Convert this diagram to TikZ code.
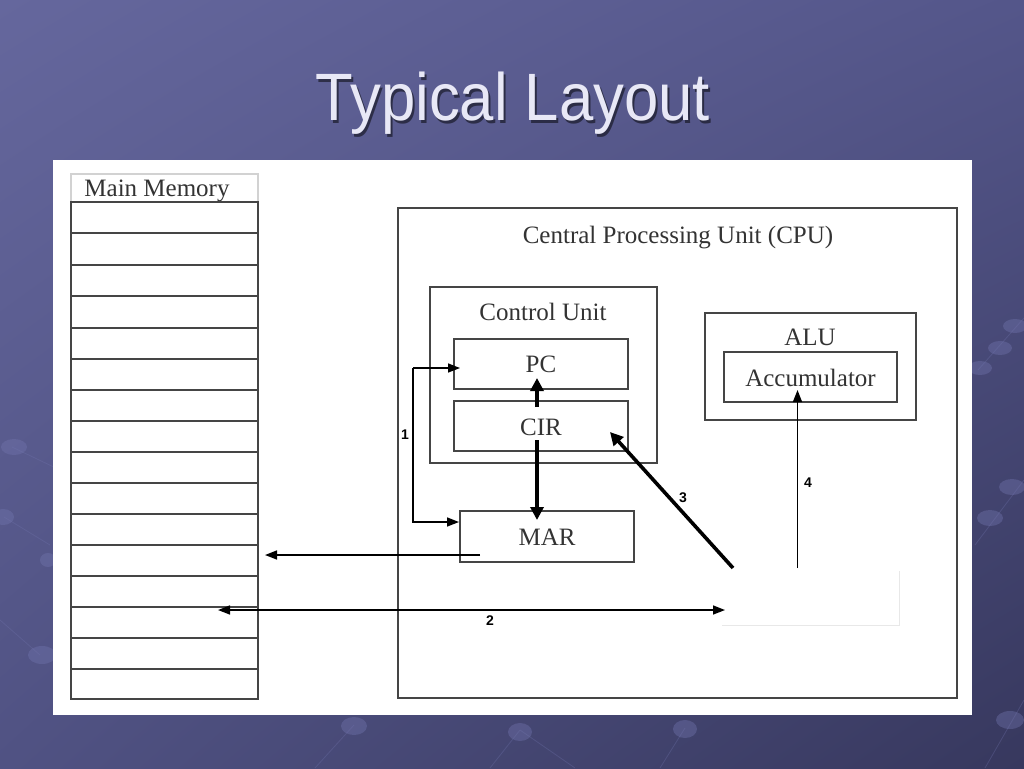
\documentclass[tikz,border=0pt]{standalone}
\usepackage{fontspec}
\setmainfont{Liberation Serif}
\newfontfamily\titlefont{Liberation Sans}
\usetikzlibrary{arrows.meta,calc,shadings}
\definecolor{bgUL}{HTML}{65679D}
\definecolor{bgUR}{HTML}{54568A}
\definecolor{bgLL}{HTML}{505283}
\definecolor{bgLR}{HTML}{37385E}
\definecolor{dotc}{HTML}{7275AE}
\definecolor{boxgray}{HTML}{454545}
\definecolor{txtgray}{HTML}{333333}
\definecolor{titlec}{HTML}{E8E8F6}
\tikzset{
  box/.style={draw=boxgray, line width=1.7pt, inner sep=0pt, outer sep=0pt},
  celltext/.style={font=\fontsize{25}{25}\selectfont, text=txtgray, inner sep=0pt, anchor=base},
  numlabel/.style={font=\titlefont\bfseries\fontsize{14}{14}\selectfont, text=black, inner sep=0pt},
  thinarrow/.style={draw=black, line width=1.5pt, -{Triangle[length=12pt,width=9pt]}},
  thickarrow/.style={draw=black, line width=3.6pt, -{Triangle[length=13pt,width=13pt]}},
  deco/.style={fill=dotc, opacity=0.4},
  decoline/.style={draw=dotc, opacity=0.3, line width=0.8pt}
}
\begin{document}
\begin{tikzpicture}[x=1pt,y=-1pt]
\useasboundingbox (0,0) rectangle (1024,768);
\shade[upper left=bgUL, upper right=bgUR, lower left=bgLL, lower right=bgLR] (0,0) rectangle (1024,768);
% decorative background
\draw[decoline] (12,447) -- (60,470);
\draw[decoline] (4,517) -- (50,545);
\draw[decoline] (0,620) -- (40,655);
\draw[decoline] (1024,318) -- (978,370);
\draw[decoline] (1024,480) -- (975,545);
\draw[decoline] (1024,700) -- (985,768);
\draw[decoline] (354,725) -- (315,768);
\draw[decoline] (520,730) -- (490,768);
\draw[decoline] (520,730) -- (575,768);
\draw[decoline] (685,728) -- (660,768);
\fill[deco] (14,447) ellipse (13pt and 8pt);
\fill[deco] (3,517) ellipse (11pt and 8pt);
\fill[deco] (48,560) ellipse (8pt and 7pt);
\fill[deco] (42,655) ellipse (14pt and 9pt);
\fill[deco] (1015,326) ellipse (12pt and 7pt);
\fill[deco] (1000,348) ellipse (12pt and 7pt);
\fill[deco] (980,368) ellipse (12pt and 7pt);
\fill[deco] (1012,487) ellipse (13pt and 8pt);
\fill[deco] (990,518) ellipse (13pt and 8pt);
\fill[deco] (1010,720) ellipse (14pt and 9pt);
\fill[deco] (354,726) ellipse (13pt and 9pt);
\fill[deco] (520,732) ellipse (12pt and 9pt);
\fill[deco] (685,729) ellipse (12pt and 9pt);
% title (with drop shadow)
\node[font=\titlefont\fontsize{67}{67}\selectfont, text=black, opacity=0.5, anchor=base, xscale=0.92] at (515,123) {Typical Layout};
\node[font=\titlefont\fontsize{67}{67}\selectfont, text=titlec, anchor=base, xscale=0.92] (title) at (513,120) {Typical Layout};
% white panel
\fill[white] (53,160) rectangle (972,715);
% main memory
\draw[draw=gray!35, line width=1.2pt] (71,174) rectangle (258,202);
\node[celltext] (mmtitle) at (157,196) {Main Memory};
\draw[box] (71,202) rectangle (258,699);
\foreach \yy in {233,265,296,328,359,390,421,452,483,514,545,576,607,638,669} {
  \draw[box] (71,\yy) -- (258,\yy);
}
\coordinate (memE) at (258,555);
% CPU
\draw[box] (398,208) rectangle (957,698);
\node[celltext] (cputitle) at (678,243) {Central Processing Unit (CPU)};
% Control unit
\draw[box] (430,287) rectangle (657,463);
\node[celltext] (cutitle) at (543,320) {Control Unit};
\node[box, minimum width=174pt, minimum height=50pt] (pc) at (541,364) {};
\node[celltext] at (541,372) {PC};
\node[box, minimum width=174pt, minimum height=50pt] (cir) at (541,426) {};
\node[celltext] at (541,435) {CIR};
\node[box, minimum width=174pt, minimum height=51pt] (mar) at (547,536.5) {};
\node[celltext] at (547,545) {MAR};
% ALU
\draw[box] (705,313) rectangle (916,420);
\node[celltext] (alutitle) at (810,345) {ALU};
\node[box, minimum width=173pt, minimum height=50pt] (acc) at (810.5,377) {};
\node[celltext] at (810.5,386) {Accumulator};
% blank white box
\node[minimum width=177pt, minimum height=54pt, inner sep=0pt, outer sep=0pt] (wb) at (810.5,598) {};
\draw[gray!18, line width=1pt] (wb.north east) -- (wb.south east) -- (wb.south west);
% arrows
\coordinate (j1) at (413,368);
\coordinate (j2) at (413,522);
\draw[thinarrow] (j1) -- ([xshift=6pt]pc.west |- j1);
\draw[thinarrow] (j1) -- (j2) -- ([xshift=-1pt]mar.west |- j2);
\draw[thickarrow] ($(cir.north)+(-4,6)$) -- ($(pc.south)+(-4,-11)$);
\draw[thickarrow] ($(cir.center)+(-4,14)$) -- ($(mar.north)+(-10,9)$);
\draw[thinarrow] ($(mar.west)+(20,18.5)$) -- ($(memE)+(7,0)$);
\draw[thinarrow, {Triangle[length=12pt,width=9pt]}-{Triangle[length=12pt,width=9pt]}] (218,610) -- ($(wb.west)+(3,12)$);
\draw[thickarrow] ($(wb.north west)+(11,-3)$) -- ($(cir.east)+(-18,6)$);
\draw[thinarrow] ($(wb.north)+(-13,-3)$) -- ($(acc.south)+(-13,-12)$);
% labels
\node[numlabel] (l1) at (405,435) {1};
\node[numlabel] (l2) at (490,621) {2};
\node[numlabel] (l3) at (683,498) {3};
\node[numlabel] (l4) at (808,483) {4};
\end{tikzpicture}
\end{document}
